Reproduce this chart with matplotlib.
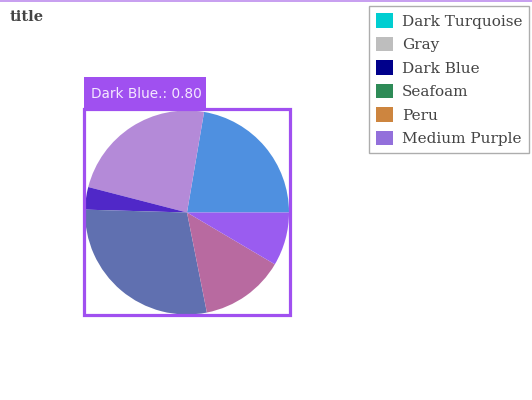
import matplotlib
matplotlib.use("Agg")
import matplotlib.pyplot as plt
from matplotlib.patches import Rectangle, Patch

# slice data, counterclockwise from 3 o'clock
labels = ["Dark Turquoise", "Gray", "Dark Blue", "Seafoam", "Peru", "Medium Purple"]
values = [5.0, 5.3, 0.8, 6.4, 3.0, 1.9]
# legend colours (the named colours)
legend_colors = ["#00CED1", "#BEBEBE", "#00008B", "#2E8B57", "#CD853F", "#9370DB"]
# colours as they appear in the pie (tinted by the highlight overlay)
slice_colors = ["#4f90e0", "#b48ad8", "#5028c8", "#6070b0", "#b86aa0", "#9a5cf0"]

highlight_text = "Dark Blue.: 0.80"
box_color = "#a050f0"

W, H = 532, 400
fig = plt.figure(figsize=(W / 100, H / 100), dpi=100)


def fx(px):
    return px / W


def fy(py):
    return 1 - py / H


# pie axes: centre (187, 212.5), radius 102 px
cx, cy, r = 187, 212.5, 102
ax = fig.add_axes([fx(cx - r), fy(cy + r), 2 * r / W, 2 * r / H])
ax.pie(values, colors=slice_colors, startangle=0, counterclock=True,
       radius=1, wedgeprops=dict(linewidth=0))
ax.set_xlim(-1, 1)
ax.set_ylim(-1, 1)
ax.set_aspect("auto")
ax.axis("off")

# highlight box around the pie
fig.patches.append(Rectangle((fx(84), fy(315)), fx(290) - fx(84), fy(109) - fy(315),
                             transform=fig.transFigure, fill=False,
                             edgecolor=box_color, linewidth=2.3))
# label tag
fig.patches.append(Rectangle((fx(84), fy(108)), fx(206) - fx(84), fy(77) - fy(108),
                             transform=fig.transFigure, facecolor=box_color,
                             edgecolor="none"))
fig.text(fx(146), fy(94), highlight_text, ha="center", va="center",
         fontsize=9.8, color="#f4e8ff", family="DejaVu Sans")

# thin line across the top
fig.patches.append(Rectangle((0, fy(2)), 1, fy(0) - fy(2), transform=fig.transFigure,
                             facecolor="#c8a0f0", edgecolor="none"))

fig.text(fx(10), fy(17), "title", ha="left", va="center", fontsize=10.5,
         fontweight="bold", color="#444444", family="DejaVu Serif")

handles = [Patch(facecolor=c, edgecolor="none") for c in legend_colors]
leg = fig.legend(handles, labels, loc="lower left",
                 bbox_to_anchor=(fx(369), fy(153)), borderaxespad=0,
                 prop=dict(family="DejaVu Serif", size=11),
                 frameon=True, fancybox=False, edgecolor="#999999",
                 handlelength=1.1, handleheight=1.1, handletextpad=0.6,
                 labelspacing=0.52, borderpad=0.45)
for t in leg.get_texts():
    t.set_color("#444444")

fig.savefig("out.png", dpi=100)
